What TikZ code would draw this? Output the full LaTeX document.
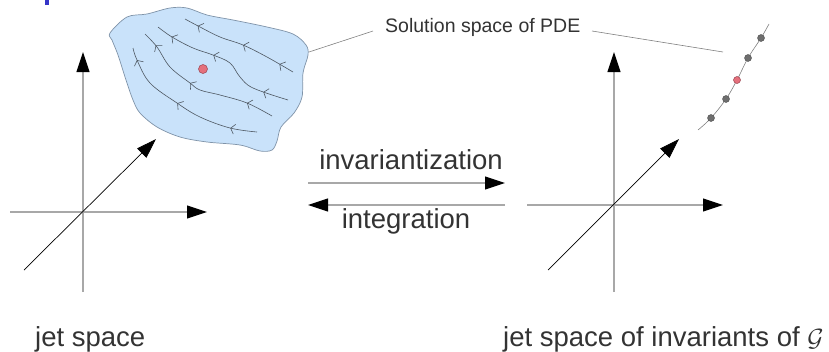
\documentclass[tikz,border=0pt]{standalone}
\usepackage{fontspec}
\setmainfont{Liberation Sans}
\usetikzlibrary{arrows.meta,decorations.markings}
\definecolor{txt}{HTML}{333333}
\definecolor{axisgray}{HTML}{A8A8A8}
\definecolor{blobfill}{HTML}{C9E2FA}
\definecolor{blobline}{HTML}{7F93A8}
\definecolor{flow}{HTML}{4E5862}
\definecolor{reddot}{HTML}{E5707C}
\definecolor{reddraw}{HTML}{9A4450}
\definecolor{graydot}{HTML}{6E6E6E}
\definecolor{titleblue}{HTML}{3535C8}
\tikzset{
  axisline/.style={draw=axisgray, line width=1.1pt, -{Triangle[length=20pt,width=13pt,color=black]}},
  diagline/.style={draw=black, line width=0.7pt, -{Triangle[length=20pt,width=13pt,color=black]}},
  bigtext/.style={text=txt, font=\fontsize{27.5}{30}\selectfont, inner sep=0pt},
  smalltext/.style={text=txt, font=\fontsize{19.5}{22}\selectfont, inner sep=0pt},
  leader/.style={draw=gray, line width=0.6pt},
  flowline/.style={draw=flow, line width=0.6pt, postaction={decorate}},
  dotg/.style={circle, fill=graydot, draw=black!70, line width=0.4pt, minimum size=7pt, inner sep=0pt},
  dotr/.style={circle, fill=reddot, draw=reddraw, line width=0.5pt, minimum size=7pt, inner sep=0pt},
}
\newcommand{\chev}{\arrowreversed{Straight Barb[length=4pt,width=10pt,line width=0.6pt]}}
\begin{document}
\begin{tikzpicture}[x=1pt,y=-1pt]
\useasboundingbox (0,0) rectangle (829,351);
% cut-off title mark
\fill[titleblue] (45,0) rectangle (48.5,4.5);

% ---------- left axes ----------
\coordinate (lO) at (83,212);
\coordinate (lvB) at (83,292);
\coordinate (lvT) at (83,52);
\coordinate (lhL) at (10,212);
\coordinate (lhR) at (207,212);
\coordinate (ldB) at (24,270);
\coordinate (ldT) at (156,139);
\draw[axisline] (lvB) -- (lvT);
\draw[axisline] (lhL) -- (lhR);
\draw[diagline] (ldB) -- (ldT);

% ---------- right axes ----------
\coordinate (rvB) at (614,292);
\coordinate (rvT) at (614,52);
\coordinate (rhL) at (527,205);
\coordinate (rhR) at (723,205);
\coordinate (rdB) at (548,270);
\coordinate (rdT) at (679,139);
\draw[axisline] (rvB) -- (rvT);
\draw[axisline] (rhL) -- (rhR);
\draw[diagline] (rdB) -- (rdT);

% ---------- blob ----------
\draw[fill=blobfill, draw=blobline, line width=0.7pt] plot[smooth cycle, tension=0.55] coordinates {
 (110,33) (127,17) (147,14) (170,8) (187,8) (207,15) (233,20) (267,27) (293,34)
 (306,45) (308,55) (303,73) (302,97) (294,113) (281,127) (277,141) (272,150)
 (260,151) (240,145) (207,142) (180,137) (157,127) (140,113) (133,100)
 (126,80) (118,55) (112,40)};

% flow lines
\draw[flowline, decoration={markings,
   mark=at position 0.08 with {\chev}, mark=at position 0.46 with {\chev},
   mark=at position 0.83 with {\chev}}]
  plot[smooth, tension=0.6] coordinates {(133,48) (137,60) (150,83) (177,103) (200,117) (230,128) (257,132)};
\draw[flowline, decoration={markings,
   mark=at position 0.1 with {\chev}, mark=at position 0.43 with {\chev},
   mark=at position 0.82 with {\chev}}]
  plot[smooth, tension=0.6] coordinates {(145,34) (157,47) (170,67) (190,83) (200,90) (220,95) (247,103) (272,116)};
\draw[flowline, decoration={markings,
   mark=at position 0.11 with {\chev}, mark=at position 0.41 with {\chev},
   mark=at position 0.83 with {\chev}}]
  plot[smooth, tension=0.6] coordinates {(158,27) (172,37) (193,48) (213,55) (230,63) (240,77) (253,88) (288,100)};
\draw[flowline, decoration={markings,
   mark=at position 0.12 with {\chev}, mark=at position 0.53 with {\chev},
   mark=at position 0.87 with {\chev}}]
  plot[smooth, tension=0.6] coordinates {(185,19) (200,27) (220,37) (243,45) (267,57) (293,72)};

\node[dotr, minimum size=9pt] (pt) at (203,69) {};

% ---------- right solution curve ----------
\draw[draw=gray, line width=0.6pt] plot[smooth, tension=0.6] coordinates {(698,130) (711,118) (726,99) (737,80) (748,58) (761,38) (769,24)};
\node[dotg] (d1) at (711,118) {};
\node[dotg] (d2) at (726,99) {};
\node[dotr] (d3) at (737,80) {};
\node[dotg] (d4) at (748,58) {};
\node[dotg] (d5) at (761,38) {};

% ---------- label & leaders ----------
\node[smalltext, anchor=base west] (sol) at (385,32) {Solution space of PDE};
\coordinate (ldl1) at (373,31);
\coordinate (ldl2) at (309,52);
\coordinate (ldr1) at (592,31);
\coordinate (ldr2) at (723,52);
\draw[leader] (ldl1) -- (ldl2);
\draw[leader] (ldr1) -- (ldr2);

% ---------- middle arrows ----------
\coordinate (m1L) at (308,183);
\coordinate (m1R) at (505,183);
\coordinate (m2L) at (308,205);
\coordinate (m2R) at (505,205);
\draw[axisline] (m1L) -- (m1R);
\draw[axisline] (m2R) -- (m2L);
\node[bigtext, anchor=base] (inv) at (411,169) {invariantization};
\node[bigtext, anchor=base] (integ) at (406,228) {integration};

% ---------- bottom labels ----------
\node[bigtext, anchor=base west] (js) at (35,346) {jet space};
\node[bigtext, anchor=base west] (jsi) at (503,346) {jet space of invariants of $\mathcal{G}$};
\end{tikzpicture}
\end{document}
